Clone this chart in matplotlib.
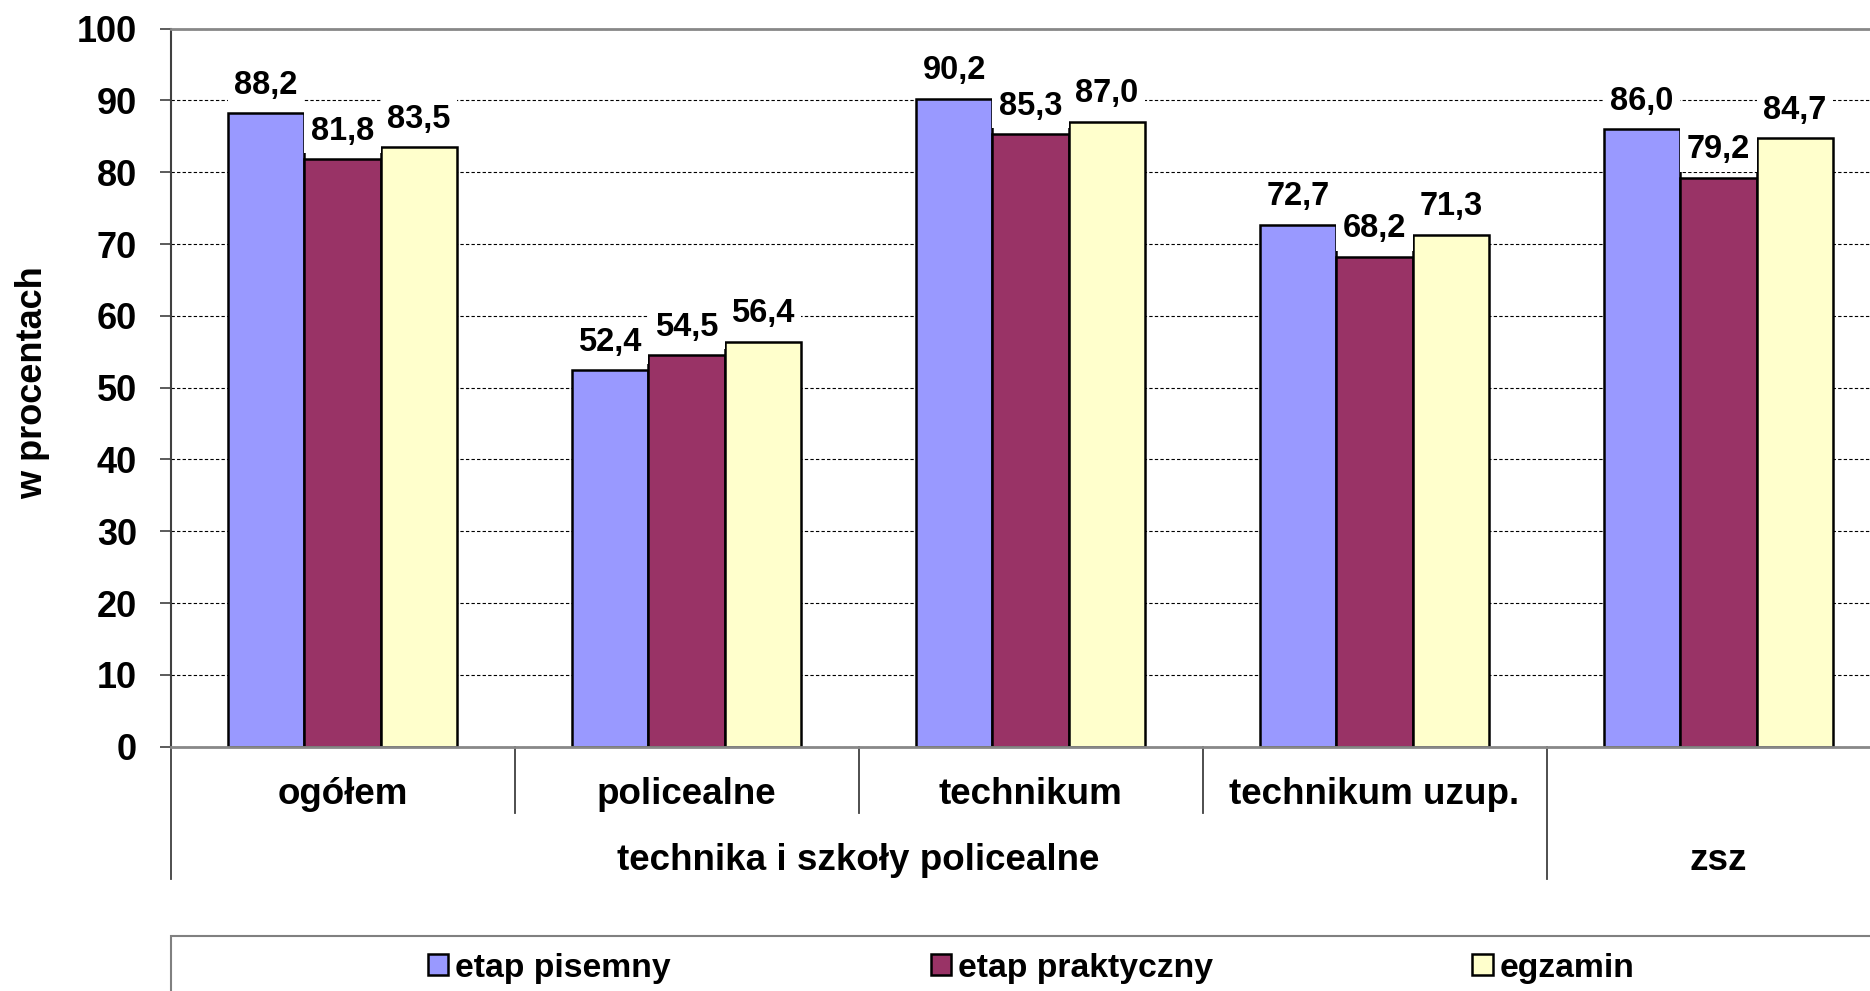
import matplotlib
matplotlib.use('Agg')
import matplotlib.pyplot as plt
from matplotlib.patches import Rectangle
import numpy as np

plt.rcParams['font.family'] = ['Liberation Sans', 'DejaVu Sans']
plt.rcParams['font.weight'] = 'bold'

# === Data ===
categories = ['ogółem', 'policealne', 'technikum', 'technikum uzup.', '']
group_labels = ['technika i szkoły policealne', 'zsz']
group_spans = [(0, 4), (4, 5)]
series_names = ['etap pisemny', 'etap praktyczny', 'egzamin']
etap_pisemny = [88.2, 52.4, 90.2, 72.7, 86.0]
etap_praktyczny = [81.8, 54.5, 85.3, 68.2, 79.2]
egzamin = [83.5, 56.4, 87.0, 71.3, 84.7]
colors = ['#9999FF', '#993366', '#FFFFCC']
yticks = np.arange(0, 101, 10)

W, H = 1870, 991
fig = plt.figure(figsize=(W / 100, H / 100), dpi=100)
# plot area runs a bit past the right edge of the picture
ax = fig.add_axes([170.5 / W, 1 - 746.6 / H, 1720 / W, 718 / H])

centers = np.arange(len(categories)) + 0.5
bw = 0.222
for i, (name, vals, c) in enumerate(zip(series_names,
                                        [etap_pisemny, etap_praktyczny, egzamin],
                                        colors)):
    xs = centers + (i - 1) * bw
    ax.bar(xs, vals, bw, color=c, edgecolor='black', linewidth=1.8,
           zorder=2, label=name)
    for x, v in zip(xs, vals):
        ax.annotate(f'{v:.1f}'.replace('.', ','), (x, v), xytext=(0, 9),
                    textcoords='offset points', ha='center', va='bottom',
                    fontsize=23.5, fontweight='bold', zorder=4,
                    bbox=dict(boxstyle='square,pad=0.2', fc='white', ec='none'))

ax.set_xlim(0, len(categories))
ax.set_ylim(0, 100)
ax.set_yticks(yticks)
ax.set_xticks([])
ax.tick_params(axis='y', labelsize=26, length=8, width=1.2, color='#404040', pad=16)
ax.yaxis.grid(True, linestyle=(0, (3, 2)), color='black', linewidth=0.8)
ax.set_axisbelow(True)

ax.spines['top'].set_color('#888888')
ax.spines['top'].set_linewidth(2)
ax.spines['bottom'].set_color('#888888')
ax.spines['bottom'].set_linewidth(2)
ax.spines['left'].set_color('#404040')
ax.spines['left'].set_linewidth(1.5)
ax.spines['right'].set_visible(False)

# === Category axis (two levels) ===
long_bounds = {b for span in group_spans for b in span}
for b in range(len(categories) + 1):
    low = -18.4 if b in long_bounds else -9.25
    ax.plot([b, b], [0, low], color='#404040', lw=1.3, clip_on=False)
for c, lab in zip(centers, categories):
    ax.text(c, -8.0, lab, ha='center', va='baseline', fontsize=26.5,
            fontweight='bold', clip_on=False)
for (a, b), lab in zip(group_spans, group_labels):
    ax.text((a + b) / 2, -17.2, lab, ha='center', va='baseline', fontsize=26.5,
            fontweight='bold', clip_on=False)

fig.text(33 / W, 1 - 382.7 / H, 'w procentach', rotation=90, ha='center',
         va='center', fontsize=26, fontweight='bold')

# === Legend ===
fig.add_artist(Rectangle((170.5 / W, -0.1), 1.0, 1 - 936 / H + 0.1,
                         transform=fig.transFigure, fill=False,
                         edgecolor='#808080', linewidth=1.5))
fig.legend(loc='center left', bbox_to_anchor=(428 / W, 1 - 968 / H), ncol=3,
           frameon=False, fontsize=24.3, handlelength=0.6, handleheight=0.55,
           handletextpad=0.2, columnspacing=7.7, borderpad=0, borderaxespad=0)

fig.savefig('out.png', dpi=100, facecolor='white')
